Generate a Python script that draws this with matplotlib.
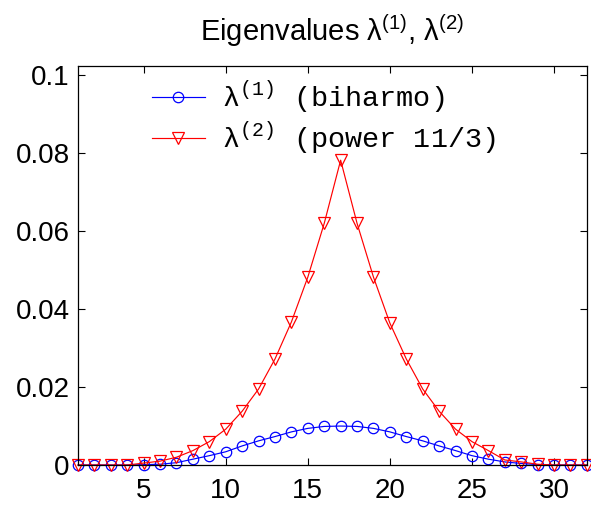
import numpy as np
import matplotlib
matplotlib.use("Agg")
from matplotlib import pyplot as plt

# dados
x = np.arange(1, 33)
lam1 = [0, 0, 0, 0, 0.0001, 0.0002, 0.0006, 0.0015, 0.0024, 0.0034,
        0.0049, 0.0062, 0.0073, 0.0085, 0.0094, 0.0099, 0.0100, 0.0099,
        0.0094, 0.0085, 0.0073, 0.0062, 0.0049, 0.0037, 0.0024, 0.0015,
        0.0008, 0.0004, 0.0001, 0, 0, 0]
lam2 = [0, 0, 0, 0, 0.0005, 0.0010, 0.0020, 0.0037, 0.0060, 0.0092,
        0.0138, 0.0195, 0.0272, 0.0367, 0.0482, 0.0620, 0.0782, 0.0620,
        0.0482, 0.0364, 0.0272, 0.0195, 0.0138, 0.0092, 0.0060, 0.0037,
        0.0013, 0.0008, 0.0002, 0, 0, 0]
xticks = [5, 10, 15, 20, 25, 30]
yticks = [0, 0.02, 0.04, 0.06, 0.08, 0.1]
yticklabels = ["0", "0.02", "0.04", "0.06", "0.08", "0.1"]

plt.rcParams['font.family'] = ['Liberation Sans', 'DejaVu Sans']
plt.rcParams['mathtext.fontset'] = 'custom'
plt.rcParams['mathtext.rm'] = 'Liberation Sans'
plt.rcParams['mathtext.tt'] = 'Liberation Mono'

fig = plt.figure(figsize=(5.91, 5.08), dpi=100)
ax = fig.add_axes([0.132, 0.0846, 0.861, 0.785])

ax.plot(x, lam1, color='blue', lw=0.85, marker='o', ms=7.5, mfc='none',
        mew=0.9, label=r'λ$^{\mathtt{(1)}}$ (biharmo)', clip_on=False)
ax.plot(x, lam2, color='red', lw=0.85, marker='v', ms=8.5, mfc='none',
        mew=0.9, label=r'λ$^{\mathtt{(2)}}$ (power 11/3)', clip_on=False)

ax.set_xlim(1, 32)
ax.set_ylim(0, 0.1023)
ax.set_xticks(xticks)
ax.set_yticks(yticks)
ax.set_yticklabels(yticklabels)
ax.tick_params(direction='in', top=True, right=True, length=5, width=0.8,
               labelsize=20)
ax.tick_params(axis='x', pad=9)
ax.tick_params(axis='y', pad=6)
for s in ax.spines.values():
    s.set_linewidth(0.9)

ax.set_title('Eigenvalues λ$^{(1)}$, λ$^{(2)}$', fontsize=21, pad=18)

leg = ax.legend(loc='upper left', bbox_to_anchor=(0.145, 0.968), frameon=False,
                prop={'family': 'Liberation Mono', 'size': 20.5},
                borderpad=0, borderaxespad=0,
                handlelength=1.86, handletextpad=0.6, labelspacing=0.14)

fig.savefig('out.png', dpi=100)
